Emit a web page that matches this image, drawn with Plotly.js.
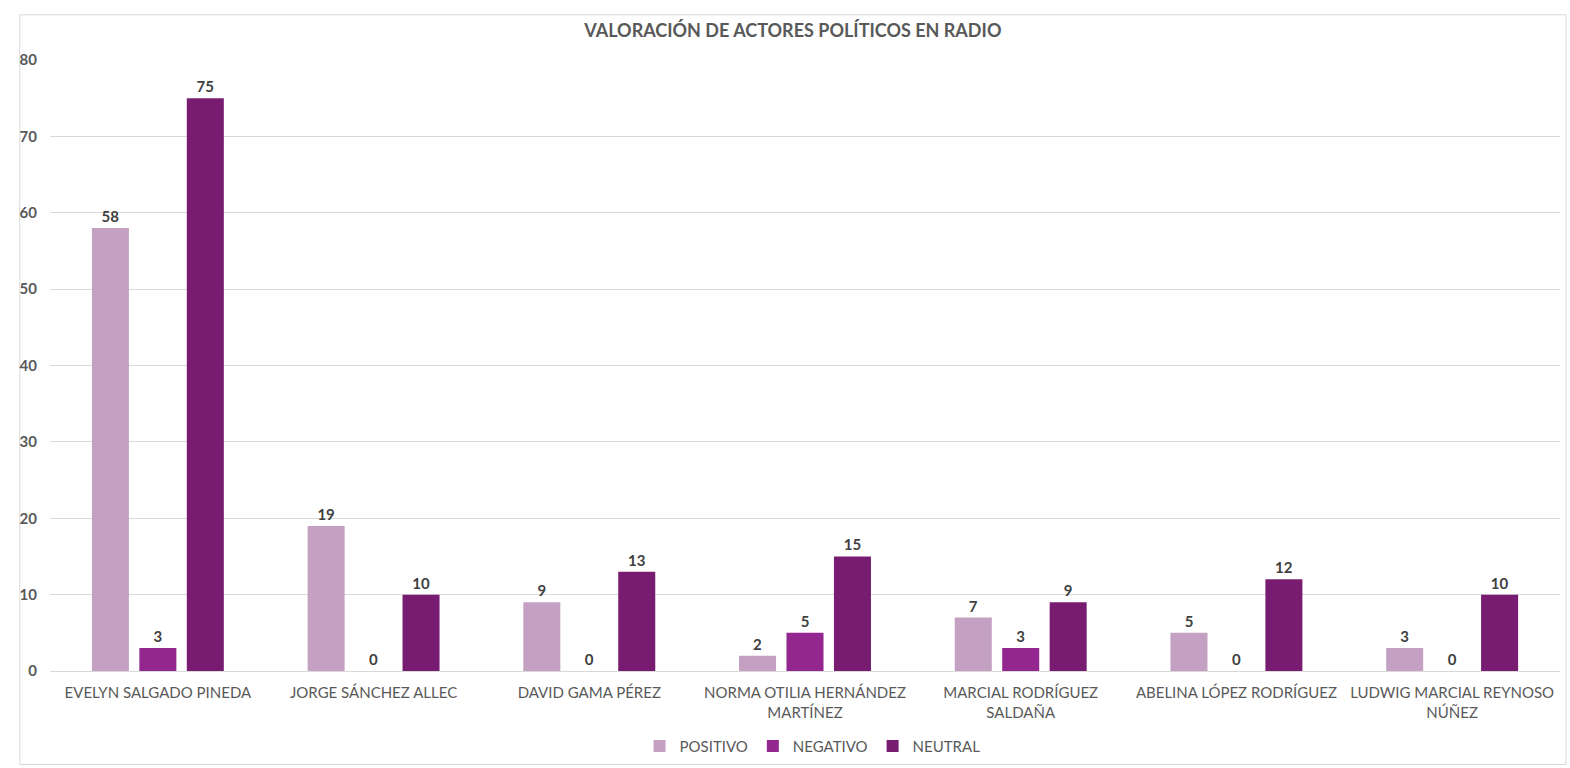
<!DOCTYPE html>
<html>
<head>
<meta charset="utf-8">
<script src="https://cdn.plot.ly/plotly-3.0.1.min.js"></script>
<style>html,body{margin:0;padding:0;background:#fff;}#chart{width:1570px;height:768px;}</style>
</head>
<body>
<div id="chart"></div>
<script>
const categories = [
  "EVELYN SALGADO PINEDA",
  "JORGE SÁNCHEZ ALLEC",
  "DAVID GAMA PÉREZ",
  "NORMA OTILIA HERNÁNDEZ<br>MARTÍNEZ",
  "MARCIAL RODRÍGUEZ<br>SALDAÑA",
  "ABELINA LÓPEZ RODRÍGUEZ",
  "LUDWIG MARCIAL REYNOSO<br>NÚÑEZ"
];
const positivo = [58, 19, 9, 2, 7, 5, 3];
const negativo = [3, 0, 0, 5, 3, 0, 0];
const neutral = [75, 10, 13, 15, 9, 12, 10];
const seriesNames = ["POSITIVO", "NEGATIVO", "NEUTRAL"];
const seriesColors = ["#C4A0C2", "#93278F", "#771C70"];
const yTicks = [0, 10, 20, 30, 40, 50, 60, 70, 80];

const FONT = "Lato, 'Open Sans', sans-serif";
const series = [positivo, negativo, neutral];
const traces = series.map((vals, i) => ({
  type: "bar",
  name: seriesNames[i],
  x: categories,
  y: vals,
  marker: {color: seriesColors[i]},
  text: vals.map(String),
  textposition: "outside",
  texttemplate: "%{y}",
  textfont: {family: FONT, size: 15, color: "#404040", weight: "bold"},
  cliponaxis: false,
  hoverinfo: "x+y+name"
}));

const layout = {
  width: 1570,
  height: 768,
  paper_bgcolor: "#ffffff",
  plot_bgcolor: "#ffffff",
  font: {family: FONT, color: "#595959", size: 14},
  title: {
    text: "VALORACIÓN DE ACTORES POLÍTICOS EN RADIO",
    font: {family: FONT, size: 18, color: "#595959", weight: "bold"},
    x: 0.505, xanchor: "center", y: 0.96, yanchor: "middle"
  },
  margin: {l: 50, r: 10, t: 60, b: 97, autoexpand: false},
  barmode: "group",
  bargap: 0.34,
  bargroupgap: 0.22,
  xaxis: {
    tickfont: {family: FONT, size: 15, color: "#595959"},
    showline: true, linecolor: "#d9d9d9", linewidth: 1,
    ticks: "", showgrid: false, automargin: false,
    ticklabelstandoff: 8
  },
  yaxis: {
    range: [0, 80],
    tickvals: yTicks,
    tickfont: {family: FONT, size: 15, color: "#595959", weight: "bold"},
    showgrid: true, gridcolor: "#d9d9d9", gridwidth: 1,
    zeroline: false, showline: false, ticks: "",
    ticklabelstandoff: 12, automargin: false
  },
  legend: {
    orientation: "h", x: 0.505, xanchor: "center", y: -0.123, yanchor: "middle",
    font: {family: FONT, size: 15, color: "#595959"},
    itemwidth: 30, traceorder: "normal"
  },
  shapes: [{
    type: "rect", xref: "paper", yref: "paper",
    x0: -0.02, x1: 1.004, y0: -0.153, y1: 1.074,
    line: {color: "#d9d9d9", width: 1}, layer: "below"
  }],
  showlegend: true
};

Plotly.newPlot("chart", traces, layout, {displayModeBar: false, responsive: false});
</script>
</body>
</html>
